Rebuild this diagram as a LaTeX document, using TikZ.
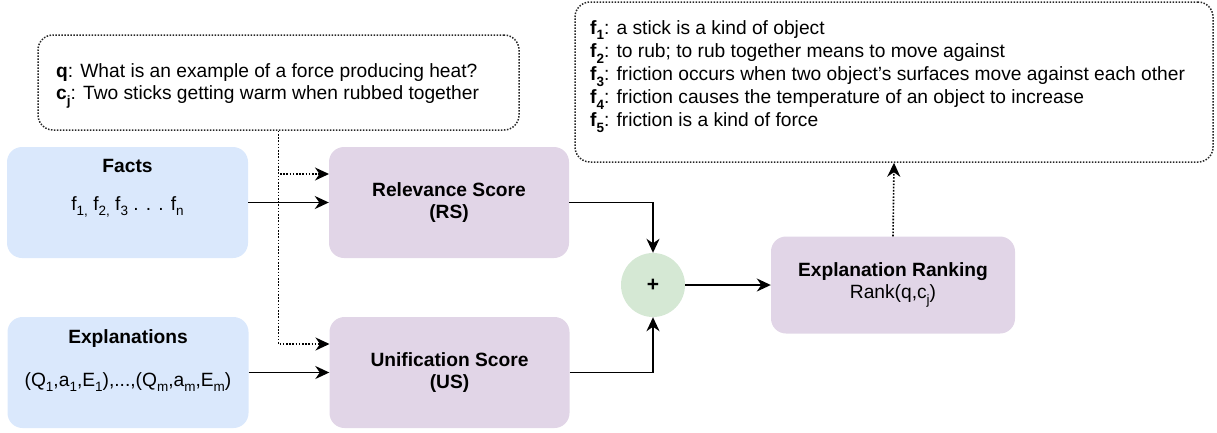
\documentclass[tikz,border=0pt]{standalone}
\usepackage{fontspec}
\setmainfont{Liberation Sans}
\usetikzlibrary{arrows.meta}
\definecolor{bluefill}{HTML}{DAE8FC}
\definecolor{purplefill}{HTML}{E1D5E7}
\definecolor{greenfill}{HTML}{D5E8D4}
\newcommand{\sbs}[1]{\raisebox{-0.3em}{\fontsize{13.5}{13.5}\selectfont #1}}
\begin{document}
\begin{tikzpicture}[x=1pt,y=-1pt,
  every node/.style={font=\fontsize{19.2}{22}\selectfont},
  card/.style={rectangle, rounded corners=15pt, inner sep=0pt, draw=none},
  bluebox/.style={card, fill=bluefill},
  purplebox/.style={card, fill=purplefill},
  notebox/.style={rectangle, rounded corners=15pt, inner sep=0pt, draw=black!85, line width=1.5pt, dash pattern=on 1.5pt off 1.5pt},
  txt/.style={inner sep=0pt, align=center},
  conn/.style={draw=black, line width=1.8pt, -{Stealth[length=14pt,width=13pt,inset=4.5pt]}},
  dotconn/.style={draw=black, line width=1.6pt, dash pattern=on 1.6pt off 1.6pt, -{Stealth[length=14pt,width=13pt,inset=4.5pt]}}
]
\useasboundingbox (0,0) rectangle (1217,432);

% note boxes
\node[notebox, minimum width=481pt, minimum height=95pt] (qbox) at (278.5,82.5) {};
\node[txt, anchor=west, align=left] (qtext) at (56,86)
  {\textbf{q}: What is an example of a force producing heat?\\
   \textbf{c\sbs{j}}: Two sticks getting warm when rubbed together};

\node[notebox, minimum width=638pt, minimum height=160pt] (fbox) at (894,82) {};
\node[txt, anchor=west, align=left, font=\fontsize{19.2}{23.2}\selectfont] (ftext) at (590,76.5)
  {\textbf{f\sbs{1}}: a stick is a kind of object\\
   \textbf{f\sbs{2}}: to rub; to rub together means to move against\\
   \textbf{f\sbs{3}}: friction occurs when two object's surfaces move against each other\\
   \textbf{f\sbs{4}}: friction causes the temperature of an object to increase\\
   \textbf{f\sbs{5}}: friction is a kind of force};

% input boxes
\node[bluebox, minimum width=241pt, minimum height=111pt] (facts) at (127.5,202.5) {};
\node[txt] (factsT) at (127.5,166) {\textbf{Facts}};
\node[txt] (factsL) at (127.5,207) {f\sbs{1,} f\sbs{2,} f\sbs{3} . . . f\sbs{n}};

\node[bluebox, minimum width=241pt, minimum height=111pt] (expl) at (128,372.5) {};
\node[txt] (explT) at (128,339) {\textbf{Explanations}};
\node[txt] (explL) at (128,382) {(Q\sbs{1},a\sbs{1},E\sbs{1}),...,(Q\sbs{m},a\sbs{m},E\sbs{m})};

% score boxes
\node[purplebox, minimum width=240pt, minimum height=111pt, align=center] (rs) at (449,202.5)
  {\textbf{Relevance Score}\\\textbf{(RS)}};
\node[purplebox, minimum width=240pt, minimum height=111pt, align=center] (us) at (449.5,372.5)
  {\textbf{Unification Score}\\\textbf{(US)}};

% sum
\node[circle, fill=greenfill, minimum size=64pt, inner sep=0pt, font=\fontsize{21}{21}\selectfont\bfseries] (plus) at (653,285) {+};

% ranking
\node[purplebox, minimum width=244pt, minimum height=97pt, align=center] (er) at (893,285)
  {\textbf{Explanation Ranking}\\Rank(q,c\sbs{j})};

% coordinates for dotted inputs
\coordinate (rsin) at (329,174);
\coordinate (usin) at (329.5,344);

% connectors
\draw[conn] (facts.east) -- (rs.west);
\draw[conn] (expl.east) -- (us.west);
\draw[dotconn] (qbox.south) |- (rsin);
\draw[dotconn] (qbox.south) |- (usin);
\draw[conn] (rs.east) -| (plus.north);
\draw[conn] (us.east) -| (plus.south);
\draw[conn] (plus.east) -- (er.west);
\draw[dotconn] (er.north) -- (fbox.south);
\end{tikzpicture}
\end{document}
